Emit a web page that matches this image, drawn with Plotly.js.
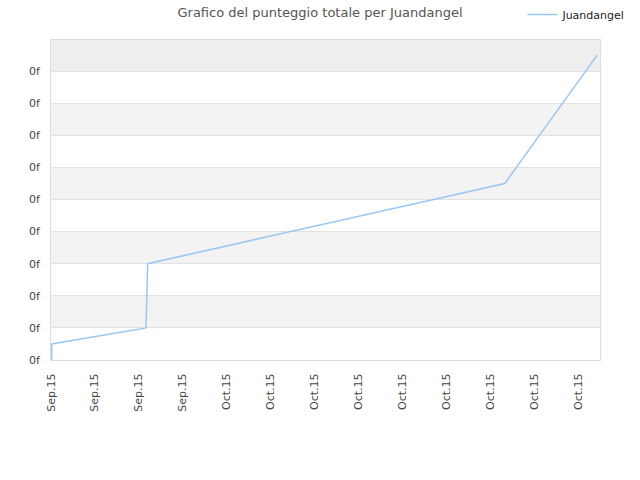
<!DOCTYPE html>
<html>
<head>
<meta charset="utf-8">
<script src="https://cdn.plot.ly/plotly-3.0.1.min.js"></script>
<style>
  body { margin: 0; background: #fff; }
  #chart { width: 640px; height: 480px; }
</style>
</head>
<body>
<div id="chart"></div>
<script>
  // punteggio totale nel tempo
  var dates = ['2015-09-19 01:00', '2015-09-19 01:10', '2015-09-25 11:45',
               '2015-09-25 14:30', '2015-10-20 00:00', '2015-10-26 07:30'];
  var scores = [0, 0.5, 1.0, 3.0, 5.5, 9.5];

  var yTicks = [0, 1, 2, 3, 4, 5, 6, 7, 8, 9];
  var yTickText = yTicks.map(function () { return '0f'; });

  var yTop = 9.97;
  var font = 'DejaVu Sans, sans-serif';

  // fasce alternate di sfondo
  var shapes = [];
  for (var k = 1; k < yTicks.length; k += 2) {
    var bandTop = (k + 1 > yTop) ? yTop : k + 1;
    shapes.push({
      type: 'rect', layer: 'below', xref: 'paper', yref: 'y',
      x0: 0, x1: 1, y0: k, y1: bandTop,
      fillcolor: k === 9 ? '#eeeeee' : '#f3f3f3', line: { width: 0 }
    });
  }

  var trace = {
    x: dates,
    y: scores,
    type: 'scatter',
    mode: 'lines',
    name: 'Juandangel',
    line: { color: '#99c7f4', width: 1.5 }
  };

  var layout = {
    width: 640,
    height: 480,
    margin: { l: 51, r: 40, t: 40, b: 120, autoexpand: false },
    paper_bgcolor: '#fff',
    plot_bgcolor: '#fff',
    font: { family: font, size: 11, color: '#444' },
    title: {
      text: 'Grafico del punteggio totale per Juandangel',
      font: { family: font, size: 13, color: '#555' },
      xref: 'container', x: 0.5, xanchor: 'center',
      yref: 'container', y: 0.975, yanchor: 'middle'
    },
    showlegend: true,
    legend: {
      xref: 'container', yref: 'container',
      x: 0.985, xanchor: 'right', y: 0.97, yanchor: 'middle',
      font: { family: font, size: 11, color: '#222' },
      bgcolor: 'rgba(0,0,0,0)'
    },
    xaxis: {
      type: 'date',
      range: ['2015-09-19 00:00', '2015-10-26 12:00'],
      tickmode: 'linear',
      tick0: '2015-09-19',
      dtick: 259200000,
      tickformat: '%b.%y',
      tickangle: -90,
      showgrid: false,
      zeroline: false,
      showline: true, mirror: true, linecolor: '#dddddd', linewidth: 1,
      ticks: 'outside', ticklen: 8, tickcolor: 'rgba(0,0,0,0)',
      tickfont: { family: font, size: 11, color: '#444' }
    },
    yaxis: {
      range: [0, yTop],
      tickmode: 'array',
      tickvals: yTicks,
      ticktext: yTickText,
      showgrid: true, gridcolor: '#e2e2e2',
      zeroline: false,
      showline: true, mirror: true, linecolor: '#dddddd', linewidth: 1,
      ticks: 'outside', ticklen: 8, tickcolor: 'rgba(0,0,0,0)',
      tickfont: { family: font, size: 11, color: '#444' }
    },
    shapes: shapes
  };

  Plotly.newPlot('chart', [trace], layout, { staticPlot: true, displayModeBar: false });
</script>
</body>
</html>
